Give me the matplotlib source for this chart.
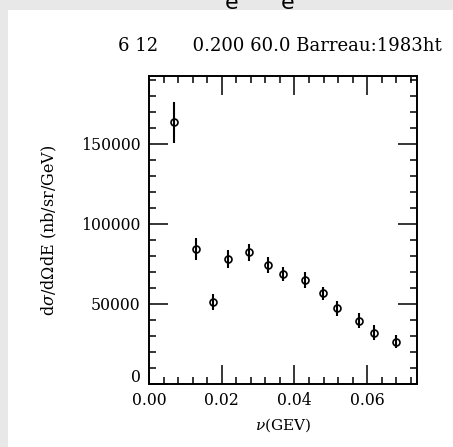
import matplotlib.pyplot as plt
from matplotlib.patches import Rectangle
from matplotlib.ticker import MultipleLocator
from matplotlib.transforms import ScaledTranslation

# Barreau:1983ht, E = 0.200 GeV, theta = 60.0 deg
nu = [0.0068, 0.0128, 0.0177, 0.0217, 0.0276, 0.0327, 0.0369,
      0.0429, 0.0478, 0.0518, 0.0578, 0.0619, 0.0679]
xsec = [163600, 84400, 51400, 78100, 82300, 74400, 68600,
        65000, 56700, 47300, 39600, 32100, 26400]
xsec_err = [12800, 6800, 5000, 5700, 5500, 4900, 4400,
            4800, 4200, 4500, 4500, 4500, 4000]

xticks = [0.0, 0.02, 0.04, 0.06]
xticklabels = ["0.00", "0.02", "0.04", "0.06"]
yticks = [0, 50000, 100000, 150000]
yticklabels = ["0", "50000", "100000", "150000"]

plt.rcParams["font.family"] = ["DejaVu Serif"]
plt.rcParams["mathtext.fontset"] = "dejavuserif"

W, H = 453, 447
fig = plt.figure(figsize=(W / 100, H / 100), dpi=100)
fig.patch.set_facecolor("#e8e8e8")
fig.patches.append(Rectangle((8 / W, 0), 1 - 8 / W, 1 - 10 / H,
                             transform=fig.transFigure, facecolor="white",
                             edgecolor="none", zorder=-1))

# page header letters cut off at the top edge
fig.text(232 / W, 1 - 9 / H, "e", fontsize=16, ha="center", va="baseline",
         family="DejaVu Sans")
fig.text(288 / W, 1 - 9 / H, "e", fontsize=16, ha="center", va="baseline",
         family="DejaVu Sans")

ax = fig.add_axes([149 / W, 1 - 384 / H, 268 / W, 308 / H], zorder=2)
ax.errorbar(nu, xsec, yerr=xsec_err, fmt="o", color="black", mfc="none",
            mec="black", ms=5, mew=1.2, elinewidth=1.5, capsize=0)

ax.set_xlim(0, 0.0737)
ax.set_ylim(0, 192500)
ax.set_xticks(xticks)
ax.set_xticklabels(xticklabels)
ax.set_yticks(yticks)
ax.set_yticklabels(yticklabels)
ax.xaxis.set_minor_locator(MultipleLocator(0.004))
ax.yaxis.set_minor_locator(MultipleLocator(10000))
ax.tick_params(which="both", direction="in", top=True, right=True,
               width=1.1, labelsize=11.3, colors="black")
ax.tick_params(which="major", length=13.5, pad=6)
ax.tick_params(which="minor", length=5)
for s in ax.spines.values():
    s.set_linewidth(1.4)

# lift the "0" on the y axis so it clears "0.00" below
zero = ax.get_yticklabels()[0]
zero.set_transform(zero.get_transform() +
                   ScaledTranslation(0, 6 / 72, fig.dpi_scale_trans))

ax.set_xlabel(r"$\nu$(GEV)", fontsize=11, labelpad=5)
ax.set_ylabel(r"d$\sigma$/d$\Omega$dE (nb/sr/GeV)", fontsize=11.5,
              labelpad=16)

fig.text(118 / W, 1 - 46 / H, "6 12      0.200 60.0 Barreau:1983ht",
         fontsize=13, ha="left", va="center")

fig.savefig("out.png", dpi=100, facecolor=fig.get_facecolor())
